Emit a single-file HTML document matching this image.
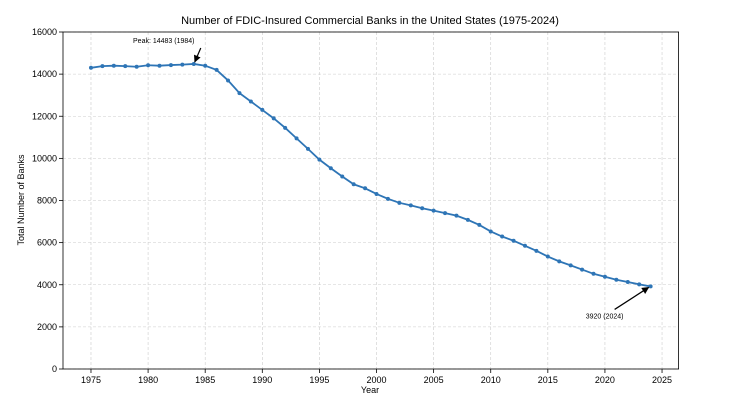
<!DOCTYPE html>
<html><head><meta charset="utf-8"><style>
body{margin:0;background:#fff;font-family:"Liberation Sans",sans-serif}
text{font-family:"Liberation Sans",sans-serif;fill:#000}
</style></head><body>
<svg id="c" width="734" height="409" viewBox="0 0 734 409">
<text x="370" y="24" font-size="11" text-anchor="middle">Number of FDIC-Insured Commercial Banks in the United States (1975-2024)</text>
<g id="grid"></g><g id="ticks"></g>
<rect x="63" y="32" width="615.6" height="337" fill="none" stroke="#000" stroke-width="0.8"/>
<text x="370" y="393" font-size="9" text-anchor="middle">Year</text>
<text x="24" y="200" font-size="9" text-anchor="middle" transform="rotate(-90 24 200)">Total Number of Banks</text>
<g id="series"></g><g id="ann"></g>
</svg>
<script>
const years=[];for(let y=1975;y<=2024;y++)years.push(y);
const banks=[14300,14380,14400,14380,14350,14420,14400,14430,14450,14483,14400,14200,13700,13100,12700,12300,11900,11450,10950,10450,9940,9530,9140,8770,8580,8310,8080,7890,7770,7630,7520,7400,7280,7080,6840,6530,6290,6090,5850,5610,5340,5110,4920,4720,4520,4380,4240,4130,4020,3920];
const xTicks=[1975,1980,1985,1990,1995,2000,2005,2010,2015,2020,2025];
const yTicks=[0,2000,4000,6000,8000,10000,12000,14000,16000];
const X=v=>63+(v-1972.55)*(615.6/53.9);
const Y=v=>369-v*337/16000;
const NS='http://www.w3.org/2000/svg';
function mk(t,a,p){const e=document.createElementNS(NS,t);for(const k in a)e.setAttribute(k,a[k]);p.appendChild(e);return e;}
const g=document.getElementById('grid'),tk=document.getElementById('ticks');
xTicks.forEach(v=>{
 const l=mk('line',{x1:X(v),x2:X(v),y1:32,y2:369,stroke:'#ccc','stroke-width':0.6,'stroke-dasharray':'3,2'},g);
 
 mk('line',{x1:X(v),x2:X(v),y1:369,y2:373,stroke:'#000','stroke-width':0.8},tk);
 const t=mk('text',{x:X(v),y:383,'font-size':9,'text-anchor':'middle'},tk);t.textContent=v;
 
});
yTicks.forEach(v=>{
 const l=mk('line',{x1:63,x2:678.6,y1:Y(v),y2:Y(v),stroke:'#ccc','stroke-width':0.6,'stroke-dasharray':'3,2'},g);
 
 mk('line',{x1:59,x2:63,y1:Y(v),y2:Y(v),stroke:'#000','stroke-width':0.8},tk);
 const t=mk('text',{x:57,y:Y(v)+3,'font-size':9,'text-anchor':'end'},tk);t.textContent=v;
 
});
const s=document.getElementById('series');
const pl=mk('polyline',{points:years.map((y,i)=>X(y)+','+Y(banks[i])).join(' '),fill:'none',stroke:'#2e75b6','stroke-width':1.8},s);

years.forEach((y,i)=>{const c=mk('circle',{cx:X(y),cy:Y(banks[i]),r:2,fill:'#2e75b6'},s);
 });
const a=document.getElementById('ann');
mk('defs',{},a).innerHTML='<marker id="ah" viewBox="0 0 10 10" refX="9" refY="5" markerWidth="6" markerHeight="6" orient="auto"><path d="M0,0L10,5L0,10z" fill="#000"/></marker>';
const pi=banks.indexOf(Math.max(...banks));
const px=X(years[pi]),py=Y(banks[pi]);
mk('line',{x1:px+7,y1:py-16,x2:px+1,y2:py-2,stroke:'#000','stroke-width':1.2,'marker-end':'url(#ah)'},a);
const t1=mk('text',{x:px-30,y:py-21,'font-size':7,'text-anchor':'middle'},a);t1.textContent='Peak: '+banks[pi]+' ('+years[pi]+')';

const li=banks.length-1,lx=X(years[li]),ly=Y(banks[li]);
mk('line',{x1:lx-36,y1:ly+23,x2:lx-2,y2:ly+1,stroke:'#000','stroke-width':1.2,'marker-end':'url(#ah)'},a);
const t2=mk('text',{x:lx-46,y:ly+32,'font-size':7,'text-anchor':'middle'},a);t2.textContent=banks[li]+' ('+years[li]+')';

</script>
</body></html>
